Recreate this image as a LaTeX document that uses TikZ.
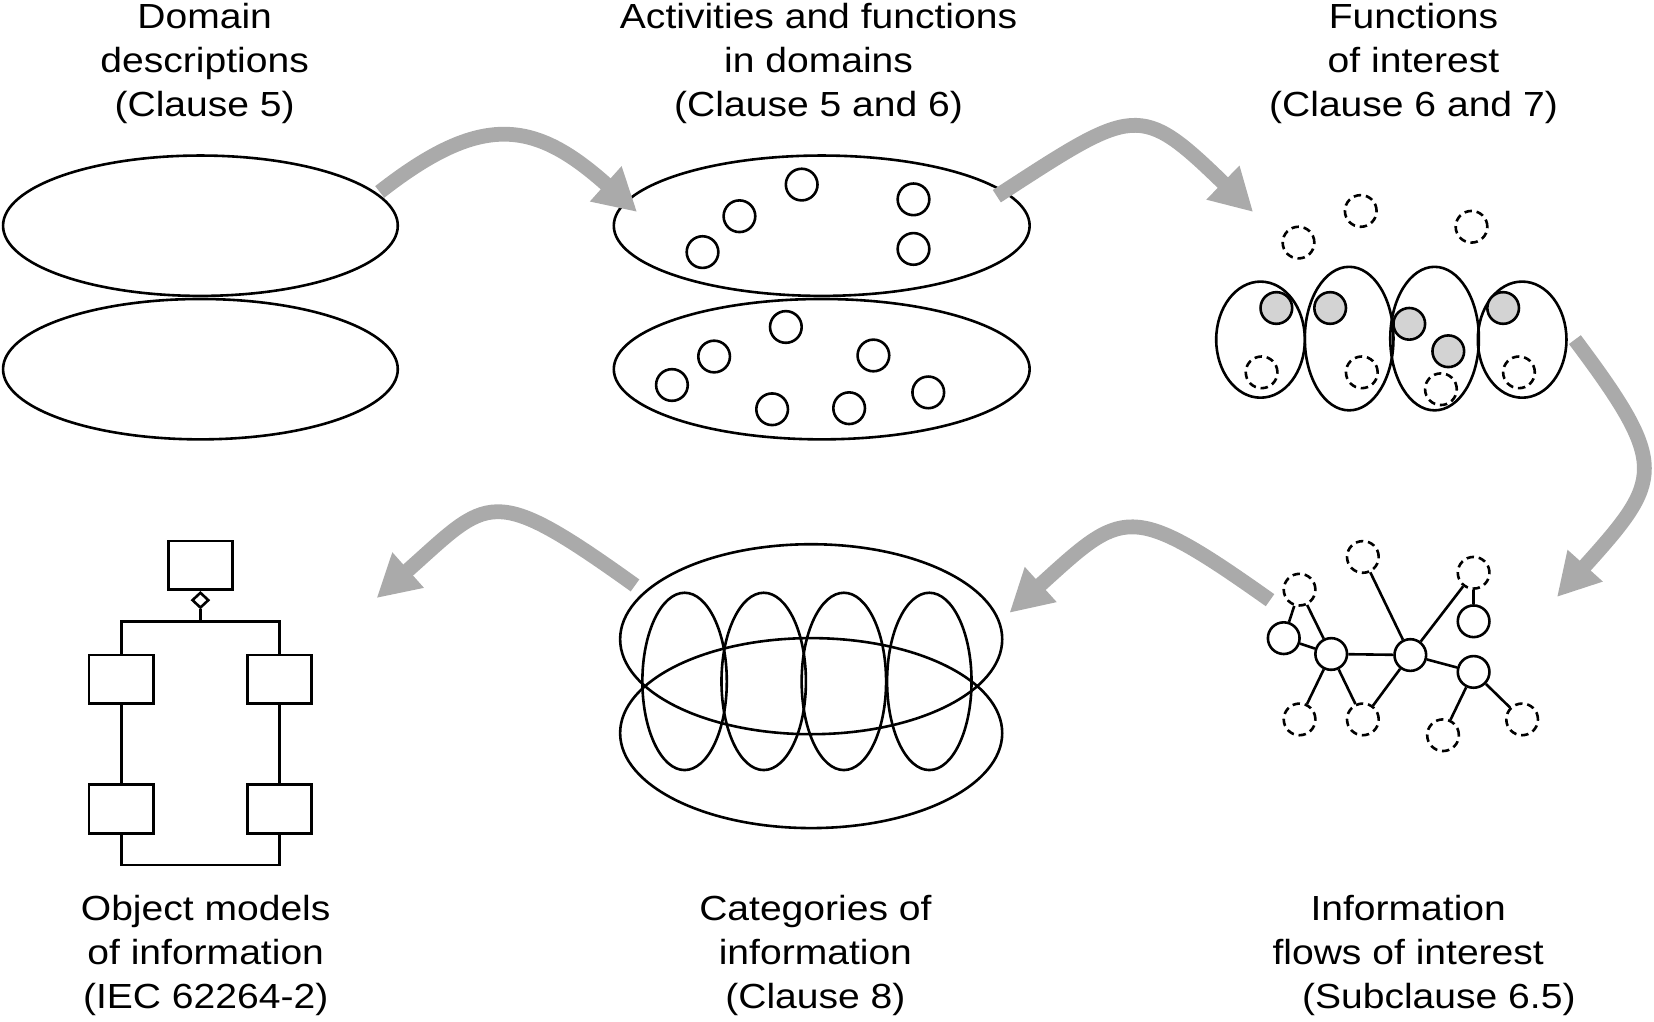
\documentclass[tikz,border=0pt]{standalone}
\usepackage{fontspec}
\setmainfont{Liberation Sans}[FakeStretch=1.12]
\usetikzlibrary{arrows.meta,shapes.geometric,positioning}
\definecolor{flowgray}{RGB}{170,170,170}
\definecolor{selgray}{RGB}{211,211,211}

\begin{document}
\begin{tikzpicture}[x=0.01cm,y=-0.01cm,line width=0.7pt,
    dom/.style={ellipse,draw,inner sep=0pt,minimum width=3.74cm,minimum height=1.33cm},
    act/.style={dom,minimum width=3.94cm},
    fn/.style={circle,draw,inner sep=0pt,minimum size=0.3cm},
    opt/.style={fn,dash pattern=on 2pt off 1.3pt},
    sel/.style={fn,fill=selgray},
    grp/.style={ellipse,draw,inner sep=0pt,minimum width=0.84cm,minimum height=1.36cm},
    cat/.style={ellipse,draw,inner sep=0pt,minimum width=3.62cm,minimum height=1.8cm},
    part/.style={ellipse,draw,inner sep=0pt,minimum width=0.8cm,minimum height=1.68cm},
    cls/.style={rectangle,draw,inner sep=0pt,minimum width=0.61cm,minimum height=0.46cm},
    agg/.style={diamond,draw,inner sep=0pt,minimum width=0.16cm,minimum height=0.15cm},
    flow/.style={draw=flowgray,line width=0.14cm,-{Triangle[length=0.4cm,width=0.42cm]}},
    lbl/.style={align=center,inner sep=0pt,anchor=base,font=\fontsize{9.4}{11.8}\selectfont}]
  \useasboundingbox (0,0) rectangle (1568,968);

  \node[lbl] (t1) at (194,110)  {Domain\\descriptions\\(Clause 5)};
  \node[lbl] (t2) at (776,110)  {Activities and functions\\in domains\\(Clause 5 and 6)};
  \node[lbl] (t3) at (1340,110) {Functions\\of interest\\(Clause 6 and 7)};
  \node[lbl] (b1) at (195,956) {Object models\\of information\\(IEC 62264-2)};
  \node[lbl] (b2) at (773,956) {Categories of\\information\\(Clause 8)};
  \node[lbl] (b3) at (1335,956) {Information\\flows of interest\\\hspace*{0.58cm}(Subclause 6.5)};

  \node[dom] (d1) at (190,214) {};
  \node[dom] (d2) at (190,350) {};

  \node[act] (a1) at (779,214) {};
  \node[act] (a2) at (779,350) {};
  \foreach \i/\x/\y in {1/760/175,2/701/205,3/866/189,4/666/239,5/866/236}
    \node[fn] (u\i) at (\x,\y) {};
  \foreach \i/\x/\y in {1/745/310,2/677/338,3/828/337,4/637/365,5/732/388,6/805/387,7/880/372}
    \node[fn] (v\i) at (\x,\y) {};

  \node[grp,minimum height=1.1cm] (g1) at (1195,322) {};
  \node[grp] (g2) at (1279,321) {};
  \node[grp] (g3) at (1360,321) {};
  \node[grp,minimum height=1.1cm] (g4) at (1443,322) {};
  \foreach \i/\x/\y in {1/1210/292,2/1261/292,3/1336/307,4/1373/333,5/1425/292}
    \node[sel] (s\i) at (\x,\y) {};
  \foreach \i/\x/\y in {1/1196/353,2/1291/353,3/1366/369,4/1440/353,5/1231/230,6/1290/200,7/1395/215}
    \node[opt] (o\i) at (\x,\y) {};

  \node[opt] (ga) at (1232,559) {};
  \node[fn]  (gb) at (1217,605) {};
  \node[fn]  (gc) at (1262,620) {};
  \node[opt] (gd) at (1292,528) {};
  \node[fn]  (ge) at (1337,621) {};
  \node[opt] (gf) at (1397,543) {};
  \node[fn]  (gg) at (1397,589) {};
  \node[fn]  (gh) at (1397,637) {};
  \node[opt] (gi) at (1232,682) {};
  \node[opt] (gj) at (1292,682) {};
  \node[opt] (gk) at (1368,697) {};
  \node[opt] (gl) at (1443,682) {};
  \path (ga) edge (gb) edge (gc)
        (gc) edge (gb) edge (gi) edge (gj) edge (ge)
        (ge) edge (gd) edge (gf) edge (gj) edge (gh)
        (gf) edge (gg)
        (gh) edge (gk) edge (gl);

  \node[cat] (c1) at (769,606) {};
  \node[cat] (c2) at (769,695) {};
  \foreach \i/\x in {1/649,2/724,3/800,4/881}
    \node[part] (k\i) at (\x,646) {};

  \node[cls] (top) at (190,536) {};
  \node[agg,below=0pt of top] (agg) {};
  \node[cls] (p1) at (115,644) {};
  \node[cls] (p2) at (265,644) {};
  \node[cls] (p3) at (115,767) {};
  \node[cls] (p4) at (265,767) {};
  \coordinate (fork) at (190,589);
  \coordinate (join) at (190,820);
  \draw (agg) -- (fork) -| (p1);
  \draw (fork) -| (p2);
  \draw (p1) -- (p3);
  \draw (p2) -- (p4);
  \draw (p3) |- (join) -| (p4);

  \coordinate (f1s) at (360,182);  \coordinate (f1e) at (604,201);
  \coordinate (f2s) at (945,186);  \coordinate (f2e) at (1188,201);
  \coordinate (f3s) at (1493,322); \coordinate (f3e) at (1476,566);
  \coordinate (f4s) at (1204,569); \coordinate (f4e) at (957,581);
  \coordinate (f5s) at (602,555);  \coordinate (f5e) at (357,567);
  \draw[flow] (f1s) .. controls (457,106) and (507,114) .. (f1e);
  \draw[flow] (f2s) .. controls (1076,101) and (1080,96) .. (f2e);
  \draw[flow] (f3s) .. controls (1583,442) and (1576,455) .. (f3e);
  \draw[flow] (f4s) .. controls (1070,474) and (1065,483) .. (f4e);
  \draw[flow] (f5s) .. controls (464,456) and (464,472) .. (f5e);
\end{tikzpicture}
\end{document}
